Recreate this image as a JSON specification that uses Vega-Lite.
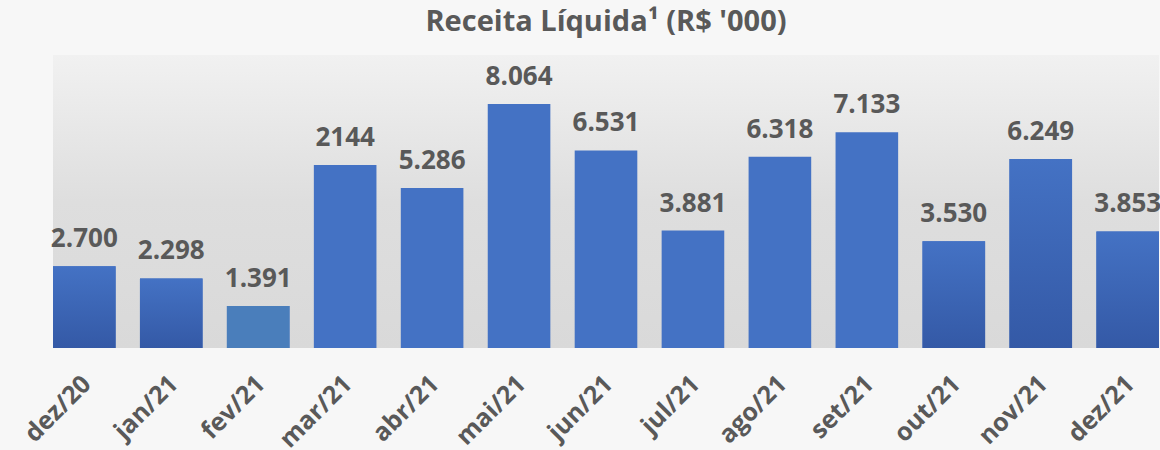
{
  "$schema": "https://vega.github.io/schema/vega-lite/v6.json",
  "autosize": "none",
  "width": 1106,
  "height": 293,
  "padding": {"left": 53, "right": 1, "top": 55, "bottom": 102},
  "background": "#f7f7f7",
  "config": {
    "view": {
      "stroke": null,
      "fill": {"gradient": "linear", "x1": 0, "y1": 0, "x2": 0, "y2": 1,
        "stops": [{"offset": 0, "color": "#f1f1f1"}, {"offset": 0.5, "color": "#dedede"}, {"offset": 1, "color": "#d9d9d9"}]}
    },
    "font": "Open Sans"
  },
  "title": {
    "text": "Receita Líquida¹ (R$ '000)",
    "fontSize": 29,
    "fontWeight": "bold",
    "color": "#595959",
    "baseline": "alphabetic",
    "offset": 22,
    "dy": 27,
    "anchor": "middle",
    "frame": "group"
  },
  "data": {
    "values": [
      {"mes": "dez/20", "valor": 2700, "rotulo": "2.700"},
      {"mes": "jan/21", "valor": 2298, "rotulo": "2.298"},
      {"mes": "fev/21", "valor": 1391, "rotulo": "1.391"},
      {"mes": "mar/21", "valor": 6050, "rotulo": "2144"},
      {"mes": "abr/21", "valor": 5286, "rotulo": "5.286"},
      {"mes": "mai/21", "valor": 8064, "rotulo": "8.064"},
      {"mes": "jun/21", "valor": 6531, "rotulo": "6.531"},
      {"mes": "jul/21", "valor": 3881, "rotulo": "3.881"},
      {"mes": "ago/21", "valor": 6318, "rotulo": "6.318"},
      {"mes": "set/21", "valor": 7133, "rotulo": "7.133"},
      {"mes": "out/21", "valor": 3530, "rotulo": "3.530"},
      {"mes": "nov/21", "valor": 6249, "rotulo": "6.249"},
      {"mes": "dez/21", "valor": 3853, "rotulo": "3.853"}
    ]
  },
  "encoding": {
    "x": {
      "field": "mes", "type": "nominal", "sort": null, "title": null,
      "scale": {"paddingInner": 0.28, "paddingOuter": 0},
      "axis": {
        "labelAngle": -45, "labelFontSize": 25, "labelFontWeight": "bold",
        "labelColor": "#595959", "ticks": false, "domain": false,
        "labelPadding": 23, "labelOffset": -6
      }
    },
    "y": {
      "field": "valor", "type": "quantitative",
      "scale": {"domain": [0, 9683]}, "axis": null
    }
  },
  "layer": [
    {"mark": {"type": "bar", "color": "#4472c4"}},
    {
      "transform": [{"filter": {"field": "mes", "oneOf": ["dez/20", "jan/21", "out/21", "nov/21", "dez/21"]}}],
      "mark": {"type": "bar", "color": {"gradient": "linear", "x1": 0, "y1": 0, "x2": 0, "y2": 1,
        "stops": [{"offset": 0, "color": "#4472c4"}, {"offset": 1, "color": "#3459a6"}]}}
    },
    {
      "transform": [{"filter": {"field": "mes", "equal": "fev/21"}}],
      "mark": {"type": "bar", "color": "#4a7ebb"}
    },
    {
      "mark": {"type": "text", "baseline": "alphabetic", "dy": -19, "fontSize": 26, "fontWeight": "bold", "color": "#595959"},
      "encoding": {"text": {"field": "rotulo"}}
    }
  ]
}
